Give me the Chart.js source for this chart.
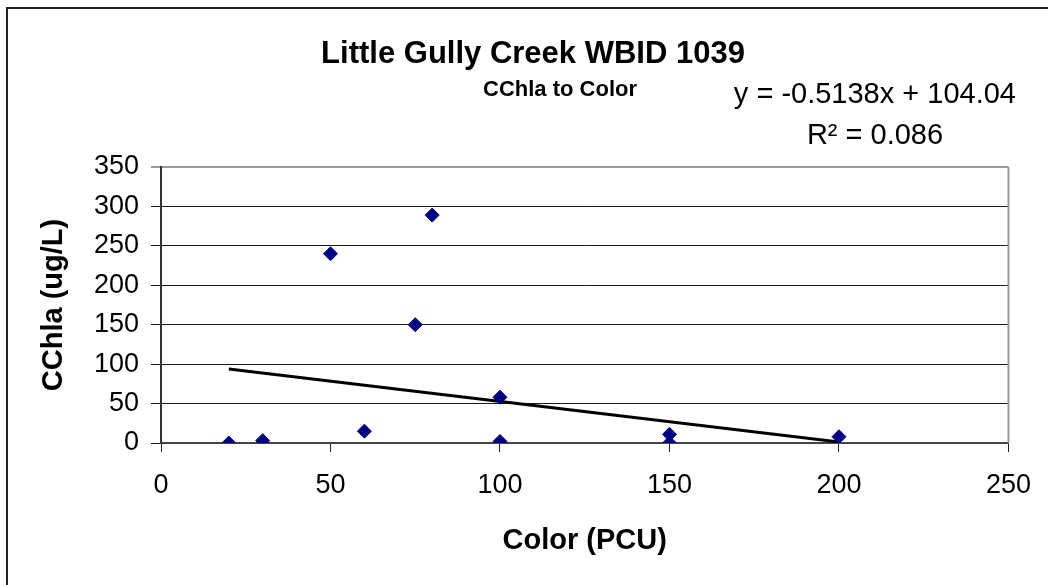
<!DOCTYPE html>
<html>
<head>
<meta charset="utf-8">
<script src="https://cdn.jsdelivr.net/npm/chart.js@4.4.0/dist/chart.umd.min.js"></script>
<style>
  html, body { margin: 0; padding: 0; background: #ffffff; }
  #wrap { width: 1048px; height: 585px; position: relative; }
</style>
</head>
<body>
<div id="wrap"><canvas id="c" width="1048" height="585"></canvas></div>
<script>
// ---- data ----
const colorPCU = [20, 30, 50, 60, 75, 80, 100, 100, 150, 150, 200];
const cchla    = [0, 3, 240, 15, 150, 289, 58, 2, 11, 0, 8];
const trendX   = [20, 200];
const trendY   = [93.76, 1.28];
const xTicks   = [0, 50, 100, 150, 200, 250];
const yTicks   = [0, 50, 100, 150, 200, 250, 300, 350];
const titleText    = 'Little Gully Creek WBID 1039';
const subtitleText = 'CChla to Color';
const eqText       = 'y = -0.5138x + 104.04';
const r2Text       = 'R² = 0.086';
const xTitle = 'Color (PCU)';
const yTitle = 'CChla (ug/L)';

const FONT = "'Liberation Sans', Arial, Helvetica, sans-serif";

const scatterData = colorPCU.map((x, i) => ({ x: x, y: cchla[i] }));
const trendData = trendX.map((x, i) => ({ x: x, y: trendY[i] }));

function drawText(ctx, text, x, y, font, align) {
  ctx.save();
  ctx.font = font;
  ctx.fillStyle = '#000';
  ctx.textAlign = align;
  ctx.textBaseline = 'alphabetic';
  ctx.fillText(text, x, y);
  ctx.restore();
}

const decorPlugin = {
  id: 'decor',
  afterDraw(chart) {
    const ctx = chart.ctx;
    const a = chart.chartArea;
    ctx.save();
    // right plot border (gray)
    ctx.strokeStyle = '#9a9a9a';
    ctx.lineWidth = 2;
    ctx.beginPath();
    ctx.moveTo(a.right, a.top);
    ctx.lineTo(a.right, a.bottom);
    ctx.stroke();
    // outer chart frame (top + left visible)
    ctx.strokeStyle = '#222';
    ctx.lineWidth = 2;
    ctx.beginPath();
    ctx.moveTo(7, 585);
    ctx.lineTo(7, 8);
    ctx.lineTo(1048, 8);
    ctx.stroke();
    ctx.restore();
    // titles and trendline labels
    drawText(ctx, titleText, 533, 63, 'bold 31px ' + FONT, 'center');
    drawText(ctx, subtitleText, 560, 96, 'bold 22px ' + FONT, 'center');
    drawText(ctx, eqText, 1016, 103, '29px ' + FONT, 'right');
    drawText(ctx, r2Text, 875, 144, '29px ' + FONT, 'center');
  }
};

new Chart(document.getElementById('c'), {
  type: 'scatter',
  data: {
    datasets: [
      {
        label: 'CChla',
        data: scatterData,
        pointStyle: 'rectRot',
        pointRadius: 7,
        pointHoverRadius: 7,
        backgroundColor: '#000080',
        borderColor: '#000080',
        borderWidth: 1,
        showLine: false,
        order: 1
      },
      {
        label: 'Linear trend',
        type: 'line',
        data: trendData,
        borderColor: '#000000',
        borderWidth: 3,
        pointRadius: 0,
        fill: false,
        showLine: true,
        order: 2
      }
    ]
  },
  options: {
    responsive: false,
    animation: false,
    events: [],
    layout: { padding: { left: 0, right: 33, top: 167, bottom: 0 } },
    plugins: {
      legend: { display: false },
      title: { display: false },
      tooltip: { enabled: false }
    },
    scales: {
      x: {
        type: 'linear',
        min: 0,
        max: 250,
        afterBuildTicks: (s) => { s.ticks = xTicks.map(v => ({ value: v })); },
        afterFit: (s) => { s.height = 142; },
        ticks: {
          font: { family: FONT, size: 27 },
          color: '#000',
          padding: 17,
          maxRotation: 0,
          autoSkip: false
        },
        grid: {
          drawOnChartArea: false,
          drawTicks: true,
          tickLength: 9,
          color: '#222',
          lineWidth: 1
        },
        border: { display: true, color: '#444', width: 2 },
        title: {
          display: true,
          text: xTitle,
          font: { family: FONT, size: 29, weight: 'bold' },
          color: '#000',
          padding: { top: 0, bottom: 27 }
        }
      },
      y: {
        type: 'linear',
        min: 0,
        max: 350,
        afterBuildTicks: (s) => { s.ticks = yTicks.map(v => ({ value: v })); },
        afterFit: (s) => { s.width = 161; },
        ticks: {
          font: { family: FONT, size: 27 },
          color: '#000',
          padding: 12,
          autoSkip: false
        },
        grid: {
          drawOnChartArea: true,
          drawTicks: true,
          tickLength: 10,
          color: (c) => (c.tick && c.tick.value === 350 ? '#9a9a9a' : '#1a1a1a'),
          lineWidth: (c) => (c.tick && c.tick.value === 350 ? 2 : 1)
        },
        border: { display: true, color: '#333', width: 2 },
        title: {
          display: true,
          text: yTitle,
          font: { family: FONT, size: 29, weight: 'bold' },
          color: '#000',
          padding: { top: 37, bottom: 0 }
        }
      }
    }
  },
  plugins: [decorPlugin]
});
</script>
</body>
</html>
